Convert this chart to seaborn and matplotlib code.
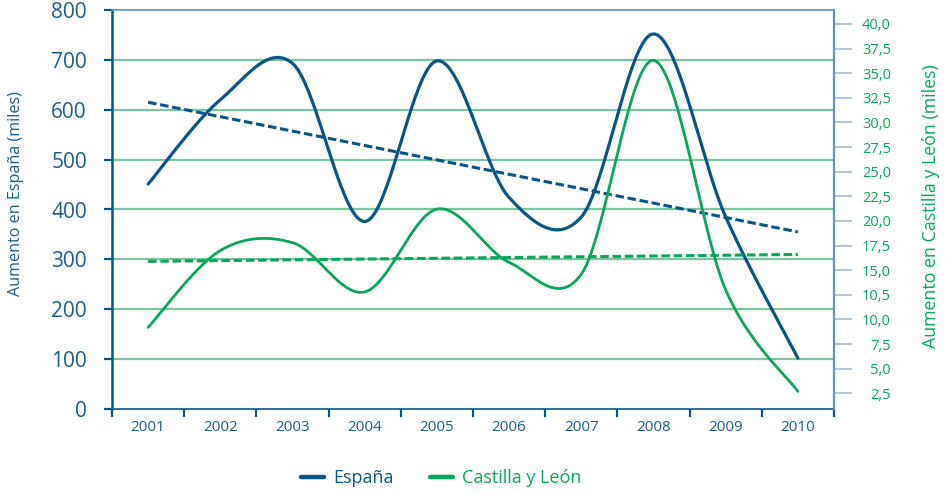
import numpy as np
import pandas as pd
import matplotlib
matplotlib.use("Agg")
import matplotlib.pyplot as plt
import seaborn as sns
from matplotlib.lines import Line2D

# ---------------- data ----------------
anios = ["2001", "2002", "2003", "2004", "2005", "2006", "2007", "2008", "2009", "2010"]
espana = [451, 620, 693, 376, 698, 424, 385, 752, 385, 102]          # miles (eje izq.)
castilla_leon = [9.2, 17.0, 17.8, 12.8, 21.2, 15.8, 14.6, 36.3, 13.0, 2.7]  # miles (eje dcho.)
espana_tendencia = [615, 355]        # línea de tendencia 2001 -> 2010
cyl_tendencia = [15.9, 16.6]         # línea de tendencia 2001 -> 2010
izq_ticks = [0, 100, 200, 300, 400, 500, 600, 700, 800]
der_ticks = [2.5, 5.0, 7.5, 10.0, 12.5, 15.0, 17.5, 20.0, 22.5, 25.0, 27.5, 30.0, 32.5, 35.0, 37.5, 40.0]
der_etiquetas = ["2,5", "5,0", "7,5", "10,0", "10,5", "15,0", "17,5", "20,0", "22,5",
                 "25,0", "27,5", "30,0", "32,5", "35,0", "37,5", "40,0"]

# ---------------- style ----------------
sns.set_style("white")
plt.rcParams["font.family"] = ["Open Sans", "DejaVu Sans"]

C_ESP = "#0b5483"
C_CYL = "#0aa55a"
C_GRID = "#7cc5a0"
C_TXT = "#1b5f8a"
C_FRAME = "#5e93ba"
C_RTICK = "#a9bfd4"


def suavizar(y, n=40):
    """Curva suavizada tipo Catmull-Rom (como la línea suavizada de Excel)."""
    P = np.column_stack([np.arange(len(y)), np.asarray(y, float)])
    out = []
    for i in range(len(P) - 1):
        p0 = P[i - 1] if i > 0 else P[i]
        p1, p2 = P[i], P[i + 1]
        p3 = P[i + 2] if i + 2 < len(P) else P[i + 1]
        c1 = p1 + (p2 - p0) / 6.0
        c2 = p2 - (p3 - p1) / 6.0
        t = np.linspace(0, 1, n, endpoint=(i == len(P) - 2))[:, None]
        b = ((1 - t) ** 3) * p1 + 3 * ((1 - t) ** 2) * t * c1 + 3 * (1 - t) * t ** 2 * c2 + t ** 3 * p2
        out.append(b)
    return np.vstack(out)


fig = plt.figure(figsize=(9.48, 4.94), dpi=100)
ax = fig.add_axes([112 / 948, 1 - 409 / 494, (834 - 112) / 948, (409 - 10) / 494])
ax2 = ax.twinx()

# gridlines (left axis)
for v in izq_ticks[1:-1]:
    ax.axhline(v, color=C_GRID, lw=1.6, zorder=0)

# España
se = suavizar(espana)
df_e = pd.DataFrame({"x": se[:, 0], "y": se[:, 1]})
sns.lineplot(data=df_e, x="x", y="y", ax=ax, sort=False, estimator=None, color=C_ESP, lw=2.3, zorder=3)
df_et = pd.DataFrame({"x": [0, len(anios) - 1], "y": espana_tendencia})
sns.lineplot(data=df_et, x="x", y="y", ax=ax, color=C_ESP, lw=2.2, zorder=3,
             linestyle=(0, (2.8, 1.2)))

# Castilla y León
sc = suavizar(castilla_leon)
df_c = pd.DataFrame({"x": sc[:, 0], "y": sc[:, 1]})
sns.lineplot(data=df_c, x="x", y="y", ax=ax2, sort=False, estimator=None, color=C_CYL, lw=2.0, zorder=3)
df_ct = pd.DataFrame({"x": [0, len(anios) - 1], "y": cyl_tendencia})
sns.lineplot(data=df_ct, x="x", y="y", ax=ax2, color=C_CYL, lw=2.2, zorder=3,
             linestyle=(0, (2.8, 1.2)))

# axes limits
ax.set_xlim(-0.5, len(anios) - 0.5)
ax.set_ylim(0, 800)
ax2.set_ylim(0.91, 41.42)

# left axis
ax.set_yticks(izq_ticks)
ax.set_yticklabels([str(v) for v in izq_ticks])
ax.tick_params(axis="y", which="major", direction="out", length=6, width=1.6, color=C_ESP,
               labelsize=15, labelcolor=C_TXT, pad=12, left=True)
ax.set_ylabel("Aumento en España (miles)", fontsize=11.6, color=C_TXT)
ax.yaxis.set_label_coords((24 - 112) / 722, (409 - 194) / 399)

# x axis: labels at centres, ticks at boundaries
ax.set_xticks(np.arange(len(anios)))
ax.set_xticklabels(anios)
ax.set_xticks(np.arange(len(anios) + 1) - 0.5, minor=True)
ax.tick_params(axis="x", which="major", length=0, labelsize=11, labelcolor=C_TXT, pad=8)
ax.tick_params(axis="x", which="minor", direction="out", length=6, width=1.6, color=C_ESP, bottom=True)
ax.set_xlabel("")

# right axis
ax2.set_yticks(der_ticks)
ax2.set_yticklabels(der_etiquetas)
ax2.tick_params(axis="y", direction="out", length=13, width=1.3, color=C_RTICK,
                labelsize=10.5, labelcolor=C_CYL, pad=28, right=True)
for lab in ax2.get_yticklabels():
    lab.set_horizontalalignment("right")
ax2.set_ylabel("Aumento en Castilla y León (miles)", fontsize=12.8, color=C_CYL)
ax2.yaxis.set_label_coords((922 - 112) / 722, (409 - 206) / 399)
ax2.set_xlabel("")

# spines
for a in (ax, ax2):
    for s in a.spines.values():
        s.set_visible(True)
ax.spines["left"].set_color(C_ESP)
ax.spines["left"].set_linewidth(1.8)
ax.spines["bottom"].set_color(C_ESP)
ax.spines["bottom"].set_linewidth(1.2)
ax.spines["top"].set_color(C_FRAME)
ax.spines["top"].set_linewidth(1.2)
ax.spines["right"].set_visible(False)
ax2.spines["left"].set_visible(False)
ax2.spines["bottom"].set_visible(False)
ax2.spines["top"].set_visible(False)
ax2.spines["right"].set_color(C_FRAME)
ax2.spines["right"].set_linewidth(1.6)

# legend
handles = [Line2D([0], [0], color=C_ESP, lw=3.2), Line2D([0], [0], color=C_CYL, lw=3.2)]
leg = fig.legend(handles, ["España", "Castilla y León"], loc="center", bbox_to_anchor=(441 / 948, 1 - 478 / 494),
                 ncol=2, frameon=False, fontsize=13, handlelength=1.3, handletextpad=0.5, columnspacing=2.0)
leg.get_texts()[0].set_color(C_ESP)
leg.get_texts()[1].set_color(C_CYL)

fig.savefig("out.png", dpi=100)
